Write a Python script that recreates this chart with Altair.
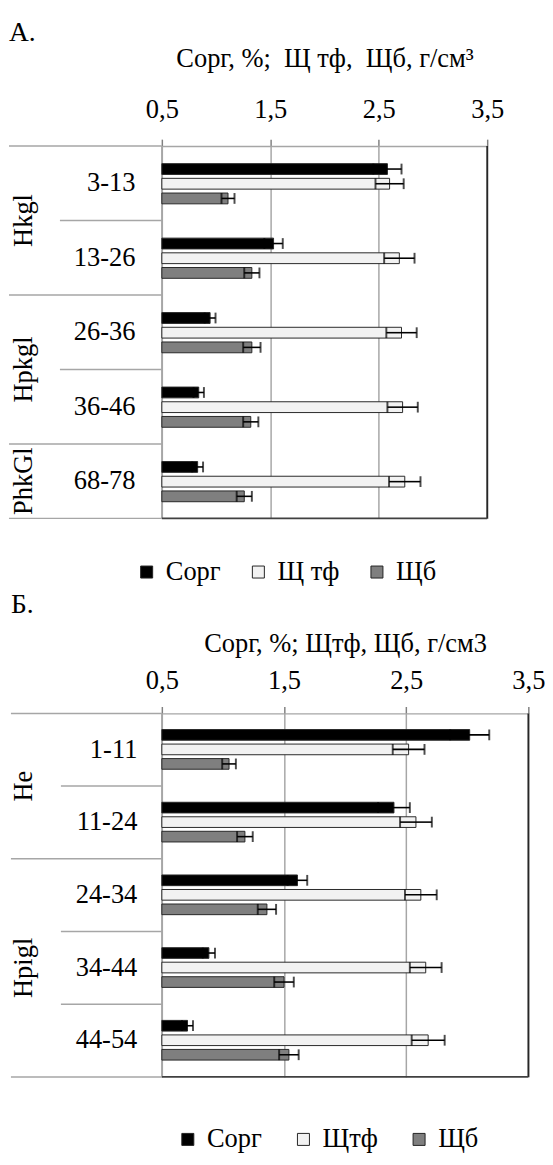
import altair as alt
import pandas as pd

FONT = "'Liberation Serif', 'Times New Roman', Times, 'DejaVu Serif', serif"
FS = 27

# ---------------- Panel A ----------------
depth_a = ["3-13", "13-26", "26-36", "36-46", "68-78"]
horizon_a = ["Hkgl", "Hkgl", "Hpkgl", "Hpkgl", "PhkGl"]
series_a = ["Сорг", "Щ тф", "Щб"]
corg_a = [2.58, 1.53, 0.945, 0.84, 0.83]
corg_err_a = [0.13, 0.085, 0.05, 0.048, 0.05]
shtf_a = [2.60, 2.69, 2.71, 2.72, 2.74]
shtf_err_a = [0.13, 0.14, 0.14, 0.14, 0.145]
shb_a = [1.11, 1.33, 1.33, 1.32, 1.26]
shb_err_a = [0.06, 0.07, 0.08, 0.07, 0.07]

# ---------------- Panel Б ----------------
depth_b = ["1-11", "11-24", "24-34", "34-44", "44-54"]
horizon_b = ["He", "He", "Hpigl", "Hpigl", "Hpigl"]
series_b = ["Сорг", "Щтф", "Щб"]
corg_b = [3.02, 2.40, 1.61, 0.885, 0.71]
corg_err_b = [0.16, 0.13, 0.08, 0.05, 0.045]
shtf_b = [2.52, 2.58, 2.62, 2.66, 2.68]
shtf_err_b = [0.13, 0.13, 0.13, 0.13, 0.135]
shb_b = [1.05, 1.18, 1.36, 1.50, 1.54]
shb_err_b = [0.056, 0.064, 0.075, 0.08, 0.08]

tick_values = [0.5, 1.5, 2.5, 3.5]
colors = ["#000000", "#f2f2f2", "#7f7f7f"]
GRAY = "#a6a6a6"


def panel(letter, title, depths, horizons, series, values, errors,
          width, height, x_long, x_short, label_x, group_x, letter_y,
          legend_x, legend_y, legend_gap, label_pad, title_pad, off_range):
    rows = []
    for i, d in enumerate(depths):
        for s, vals, errs in zip(series, values, errors):
            rows.append(dict(depth=d, series=s, value=vals[i], err=errs[i],
                             lo=vals[i] - errs[i], hi=vals[i] + errs[i]))
    df = pd.DataFrame(rows)

    xscale = alt.Scale(domain=[0.5, 3.5], nice=False, zero=False)
    xaxis = alt.Axis(
        orient="top", values=tick_values, format=".1f",
        labelExpr="replace(datum.label, '.', ',')",
        title=title, titleFont=FONT, titleFontSize=FS, titleFontWeight="normal",
        titleColor="black", titlePadding=title_pad,
        labelFont=FONT, labelFontSize=FS, labelColor="black",
        labelPadding=label_pad, labelFlush=False,
        tickSize=7, tickColor="#808080", tickWidth=1.5,
        domainColor=GRAY, domainWidth=1.5,
        grid=True, gridColor=GRAY, gridWidth=1.5,
    )
    yscale = alt.Scale(paddingInner=0, paddingOuter=0)

    def Y(bp=None):
        kw = dict(sort=depths, axis=None, scale=yscale)
        if bp is not None:
            kw["bandPosition"] = bp
        return alt.Y("depth:N", **kw)

    yoff = alt.YOffset("series:N", sort=series,
                       scale=alt.Scale(paddingInner=0.265, paddingOuter=0, range=off_range))

    base = alt.Chart(df)
    bars = base.mark_bar(stroke="#262626", strokeWidth=1).encode(
        x=alt.X("value:Q", scale=xscale, axis=xaxis),
        x2=alt.datum(0.5),
        y=Y(), yOffset=yoff,
        color=alt.Color(
            "series:N", sort=series,
            scale=alt.Scale(domain=series, range=colors),
            legend=alt.Legend(
                orient="none", legendX=legend_x, legendY=legend_y,
                direction="horizontal", title=None, symbolType="square",
                symbolSize=150, symbolStrokeColor="#222222", symbolStrokeWidth=1,
                labelFont=FONT, labelFontSize=FS, labelColor="black",
                labelOffset=6, columnPadding=legend_gap,
            ),
        ),
    )
    whisk = base.mark_rule(color="black", strokeWidth=1.6).encode(
        x=alt.X("lo:Q", scale=xscale, axis=xaxis), x2="hi:Q",
        y=Y(), yOffset=yoff,
    )
    cap_lo = base.mark_tick(color="black", thickness=2, size=11, orient="vertical").encode(
        x=alt.X("lo:Q", scale=xscale, axis=xaxis), y=Y(), yOffset=yoff)
    cap_hi = base.mark_tick(color="black", thickness=2, size=11, orient="vertical").encode(
        x=alt.X("hi:Q", scale=xscale, axis=xaxis), y=Y(), yOffset=yoff)

    # row separators on the left side
    sep_rows = []
    for i, d in enumerate(depths):
        is_long = i == 0 or horizons[i] != horizons[i - 1]
        sep_rows.append(dict(depth=d, kind="long" if is_long else "short"))
    sep_df = pd.DataFrame(sep_rows)
    lab_df = pd.DataFrame({"depth": depths})
    last_df = pd.DataFrame({"depth": [depths[-1]]})

    sep_long = alt.Chart(sep_df).transform_filter("datum.kind == 'long'").mark_rule(
        color=GRAY, strokeWidth=1.5).encode(
        x=alt.value(x_long), x2=alt.value(0), y=Y(0))
    sep_short = alt.Chart(sep_df).transform_filter("datum.kind == 'short'").mark_rule(
        color=GRAY, strokeWidth=1.5).encode(
        x=alt.value(x_short), x2=alt.value(0), y=Y(0))
    sep_bottom = alt.Chart(last_df).mark_rule(color=GRAY, strokeWidth=1.5).encode(
        x=alt.value(x_long), x2=alt.value(0), y=Y(1))
    border_bottom = alt.Chart(last_df).mark_rule(color="#404040", strokeWidth=1.8).encode(
        x=alt.X(datum=0.5, type="quantitative", scale=xscale, axis=xaxis),
        x2=alt.datum(3.5), y=Y(1))
    left_line = alt.Chart(last_df).mark_rule(color=GRAY, strokeWidth=1.5).encode(
        x=alt.X(datum=0.5, type="quantitative", scale=xscale, axis=xaxis))
    right_border = alt.Chart(last_df).mark_rule(color="#262626", strokeWidth=1.8).encode(
        x=alt.X(datum=3.5, type="quantitative", scale=xscale, axis=xaxis))

    depth_labels = alt.Chart(lab_df).mark_text(
        align="right", baseline="middle", font=FONT, fontSize=FS, color="black").encode(
        x=alt.value(label_x), y=Y(), text="depth:N")

    # horizon (group) labels, centred on their span of rows
    g_rows = []
    i = 0
    while i < len(horizons):
        j = i
        while j + 1 < len(horizons) and horizons[j + 1] == horizons[i]:
            j += 1
        cnt = j - i + 1
        if cnt % 2 == 0:
            g_rows.append(dict(depth=depths[i + cnt // 2], horizon=horizons[i], bp=0.0))
        else:
            g_rows.append(dict(depth=depths[i + cnt // 2], horizon=horizons[i], bp=0.5))
        i = j + 1
    g_df = pd.DataFrame(g_rows)
    g_text = dict(angle=270, align="center", baseline="middle", font=FONT,
                  fontSize=FS, color="black")
    grp_even = alt.Chart(g_df).transform_filter("datum.bp == 0").mark_text(**g_text).encode(
        x=alt.value(group_x), y=Y(0), text="horizon:N")
    grp_odd = alt.Chart(g_df).transform_filter("datum.bp == 0.5").mark_text(**g_text).encode(
        x=alt.value(group_x), y=Y(), text="horizon:N")

    letter_txt = alt.Chart(pd.DataFrame({"t": [letter]})).mark_text(
        align="left", baseline="top", font=FONT, fontSize=28, color="black").encode(
        x=alt.value(x_long), y=alt.value(letter_y), text="t:N")

    return alt.layer(
        left_line, bars, whisk, cap_lo, cap_hi, right_border, border_bottom,
        sep_long, sep_short, sep_bottom, depth_labels, grp_even, grp_odd, letter_txt,
    ).properties(width=width, height=height)


pa = panel("А.", "Сорг, %;\u00a0 Щ тф,\u00a0 Щб, г/см³", depth_a, horizon_a, series_a,
           [corg_a, shtf_a, shb_a], [corg_err_a, shtf_err_a, shb_err_a],
           width=332, height=380, x_long=-156, x_short=-104, label_x=-27,
           group_x=-140, letter_y=-129, legend_x=-29, legend_y=421, legend_gap=24,
           label_pad=16, title_pad=24, off_range=[18, 59])
pb = panel("Б.", "Сорг, %; Щтф, Щб, г/см3", depth_b, horizon_b, series_b,
           [corg_b, shtf_b, shb_b], [corg_err_b, shtf_err_b, shb_err_b],
           width=374, height=371, x_long=-154, x_short=-103, label_x=-25,
           group_x=-141, letter_y=-124, legend_x=13, legend_y=421, legend_gap=28,
           label_pad=12, title_pad=10, off_range=[16.5, 57])

chart = alt.vconcat(pa, pb, spacing=7).resolve_scale(
    color="independent", x="independent", y="independent", yOffset="independent"
).resolve_legend(color="independent").properties(padding=0).configure_view(stroke=None)

chart.save("out.html", embed_options={"renderer": "svg", "actions": False})
